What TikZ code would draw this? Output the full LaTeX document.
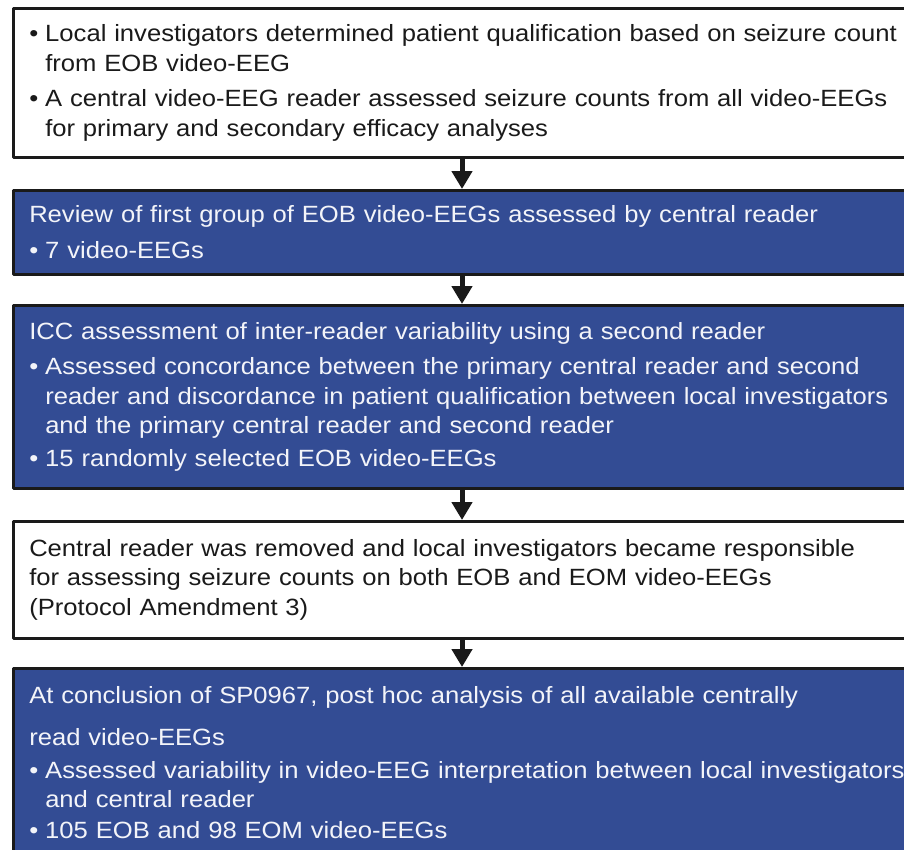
\documentclass[tikz,border=0pt]{standalone}
\usepackage{fontspec}
\setmainfont{Liberation Sans}[FakeStretch=1.09]
\usetikzlibrary{arrows.meta}
\definecolor{boxblue}{RGB}{51,76,148}
\definecolor{inkgray}{RGB}{26,26,26}
\newcommand{\bul}{\makebox[16pt][l]{\textbullet}}
\newcommand{\ind}{\hspace*{16pt}}
\begin{document}
\begin{tikzpicture}[x=1pt,y=-1pt, line join=round, >={Triangle[length=18pt,width=20pt]},
	box/.style={draw=inkgray, line width=2.5pt, anchor=north west, text width=910pt, inner xsep=16pt, inner ysep=0pt, align=left, font=\fontsize{23.5}{29.5}\selectfont},
	whitebox/.style={box, fill=white, text=inkgray},
	bluebox/.style={box, fill=boxblue, text=white!94!boxblue},
	flow/.style={->, line width=5pt, draw=inkgray}]
	\useasboundingbox (0,0) rectangle (904,849);
	\clip (0,0) rectangle (904,849);
	\fill[white] (0,0) rectangle (904,849);
	% the five steps
	\node[whitebox, minimum height=149pt] (b1) at (12,7) {\bul Local investigators determined patient qualification based on seizure count\\
		\ind from EOB video-EEG\\[6pt]
		\bul A central video-EEG reader assessed seizure counts from all video-EEGs\\
		\ind for primary and secondary efficacy analyses};
	\node[bluebox, minimum height=84pt] (b2) at (12,189) {Review of first group of EOB video-EEGs assessed by central reader\\[6pt]
		\bul 7 video-EEGs};
	\node[bluebox, minimum height=183pt] (b3) at (12,304) {ICC assessment of inter-reader variability using a second reader\\[6pt]
		\bul Assessed concordance between the primary central reader and second\\
		\ind reader and discordance in patient qualification between local investigators\\
		\ind and the primary central reader and second reader\\[3pt]
		\bul 15 randomly selected EOB video-EEGs};
	\node[whitebox, minimum height=117pt] (b4) at (12,520) {Central reader was removed and local investigators became responsible\\
		for assessing seizure counts on both EOB and EOM video-EEGs\\
		(Protocol Amendment 3)};
	\node[bluebox, minimum height=188pt] (b5) at (12,667) {At conclusion of SP0967, post hoc analysis of all available centrally\\[13pt]
		read video-EEGs\\[3pt]
		\bul Assessed variability in video-EEG interpretation between local investigators\\
		\ind and central reader\\[1pt]
		\bul 105 EOB and 98 EOM video-EEGs};
	% arrows
	\coordinate (ax) at (462,0);
	\foreach \a/\b in {b1/b2,b2/b3,b3/b4,b4/b5}
		\draw[flow] (\a.south -| ax) -- (\b.north -| ax);
\end{tikzpicture}
\end{document}
